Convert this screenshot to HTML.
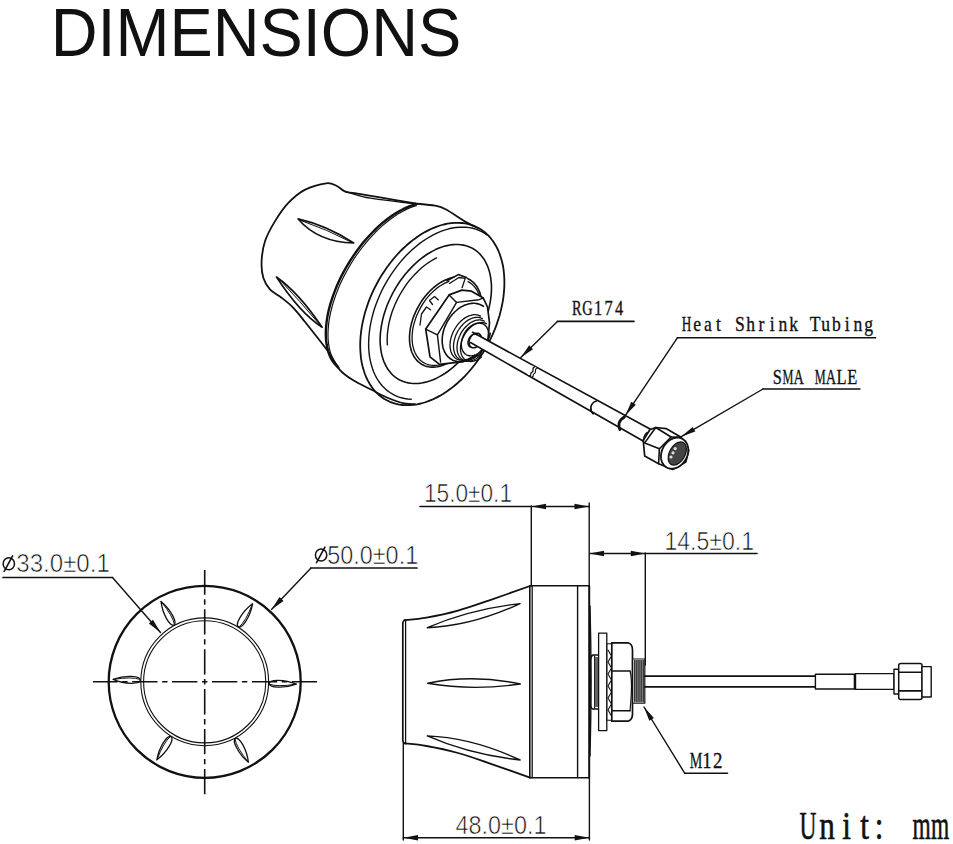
<!DOCTYPE html>
<html><head><meta charset="utf-8"><style>html,body{margin:0;padding:0;background:#fff;width:953px;height:844px;overflow:hidden}svg{display:block}</style></head>
<body><svg width="953" height="844" viewBox="0 0 953 844"><rect width="953" height="844" fill="#fff"/><g stroke="#111" stroke-linecap="round" stroke-linejoin="round" fill="none">
<text x="50.8" y="55.5" font-family="'Liberation Sans', sans-serif" font-size="68" textLength="410.5" lengthAdjust="spacingAndGlyphs" fill="#111" stroke="none">DIMENSIONS</text>
<circle cx="204.7" cy="681.8" r="96" stroke-width="2.3" fill="none"/>
<circle cx="204.7" cy="681.8" r="63.9" stroke-width="1.1" fill="none"/>
<circle cx="204.7" cy="681.8" r="61.1" stroke-width="1.1" fill="none"/>
<line x1="204.7" y1="570" x2="204.7" y2="796" stroke-width="1.6" stroke-dasharray="25.3,4.6,5.4,4.6" stroke-dashoffset="0.6" stroke-linecap="butt"/>
<line x1="93" y1="681.8" x2="318" y2="681.8" stroke-width="1.6" stroke-dasharray="25.3,4.6,5.4,4.6" stroke-dashoffset="0.7" stroke-linecap="butt"/>
<path d="M296.2,684.2 C283.9,688.8 269.1,687.8 269.2,683.5 C269.3,679.2 284.2,679 296.2,684.2 Z" stroke-width="1.3" fill="none"/>
<path d="M296.2,684.2 Q277.2,687.2 269.7,684.3" stroke-width="1" fill="none"/>
<path d="M248.4,762.2 C238.3,753.9 231.7,740.5 235.5,738.5 C239.2,736.4 246.8,749.2 248.4,762.2 Z" stroke-width="1.3" fill="none"/>
<path d="M248.4,762.2 Q236.3,747.3 235,739.3" stroke-width="1" fill="none"/>
<path d="M156.9,759.8 C159.1,746.9 167.3,734.6 171,736.8 C174.7,739 167.4,752 156.9,759.8 Z" stroke-width="1.3" fill="none"/>
<path d="M156.9,759.8 Q163.8,741.9 170.1,736.8" stroke-width="1" fill="none"/>
<path d="M113.2,679.4 C125.5,674.8 140.3,675.8 140.2,680.1 C140.1,684.4 125.2,684.6 113.2,679.4 Z" stroke-width="1.3" fill="none"/>
<path d="M113.2,679.4 Q132.2,676.4 139.7,679.3" stroke-width="1" fill="none"/>
<path d="M161,601.4 C171.1,609.7 177.7,623.1 173.9,625.1 C170.2,627.2 162.6,614.4 161,601.4 Z" stroke-width="1.3" fill="none"/>
<path d="M161,601.4 Q173.1,616.3 174.4,624.3" stroke-width="1" fill="none"/>
<path d="M252.5,603.8 C250.3,616.7 242.1,629 238.4,626.8 C234.7,624.6 242,611.6 252.5,603.8 Z" stroke-width="1.3" fill="none"/>
<path d="M252.5,603.8 Q245.6,621.7 239.3,626.8" stroke-width="1" fill="none"/>
<ellipse cx="8.8" cy="563.7" rx="5.7" ry="6.0" stroke-width="1.5" fill="none"/>
<line x1="4.2" y1="571.4" x2="12.6" y2="555.9" stroke-width="1.6"/>
<text x="16.3" y="572.2" font-family="'Liberation Sans', sans-serif" font-size="25" textLength="93.5" lengthAdjust="spacingAndGlyphs" fill="#111" stroke="#fff" stroke-width="0.6">33.0±0.1</text>
<line x1="3" y1="577.5" x2="112.5" y2="577.5" stroke-width="1.7"/>
<line x1="112.5" y1="577.5" x2="160.5" y2="632.5" stroke-width="1.4"/>
<path d="M160.5,632.5 L153,619.8 L148.9,623.4 Z" fill="#111" stroke="none"/>
<ellipse cx="321.1" cy="554.9" rx="5.7" ry="6.0" stroke-width="1.5" fill="none"/>
<line x1="316.5" y1="562.6" x2="324.9" y2="547.1" stroke-width="1.6"/>
<text x="327.2" y="563.5" font-family="'Liberation Sans', sans-serif" font-size="25" textLength="91" lengthAdjust="spacingAndGlyphs" fill="#111" stroke="#fff" stroke-width="0.6">50.0±0.1</text>
<line x1="311" y1="568" x2="417" y2="568" stroke-width="1.7"/>
<line x1="311" y1="568" x2="271.5" y2="609.5" stroke-width="1.4"/>
<path d="M271.5,609.5 L283.5,600.9 L279.5,597.1 Z" fill="#111" stroke="none"/>
<text x="424" y="501.6" font-family="'Liberation Sans', sans-serif" font-size="25" textLength="88" lengthAdjust="spacingAndGlyphs" fill="#111" stroke="#fff" stroke-width="0.6">15.0±0.1</text>
<line x1="420" y1="506.5" x2="589" y2="506.5" stroke-width="1.6"/>
<path d="M531.5,506.5 L546,509.2 L546,503.8 Z" fill="#111" stroke="none"/>
<path d="M589,506.5 L574.5,503.8 L574.5,509.2 Z" fill="#111" stroke="none"/>
<line x1="531.3" y1="506" x2="531.3" y2="586" stroke-width="1.4"/>
<line x1="589.2" y1="503" x2="589.2" y2="586" stroke-width="1.4"/>
<text x="664.5" y="550" font-family="'Liberation Sans', sans-serif" font-size="25" textLength="89.5" lengthAdjust="spacingAndGlyphs" fill="#111" stroke="#fff" stroke-width="0.6">14.5±0.1</text>
<line x1="590" y1="553.5" x2="757" y2="553.5" stroke-width="1.6"/>
<path d="M589.5,553.5 L604,556.2 L604,550.8 Z" fill="#111" stroke="none"/>
<path d="M645.3,553.5 L630.8,550.8 L630.8,556.2 Z" fill="#111" stroke="none"/>
<line x1="645.3" y1="553" x2="645.3" y2="665" stroke-width="1.4"/>
<text x="455.5" y="833.5" font-family="'Liberation Sans', sans-serif" font-size="25" textLength="91" lengthAdjust="spacingAndGlyphs" fill="#111" stroke="#fff" stroke-width="0.6">48.0±0.1</text>
<line x1="403.3" y1="837.7" x2="589.4" y2="837.7" stroke-width="1.6"/>
<path d="M403.5,837.7 L418,840.4 L418,835 Z" fill="#111" stroke="none"/>
<path d="M589.2,837.7 L574.7,835 L574.7,840.4 Z" fill="#111" stroke="none"/>
<line x1="403.3" y1="743" x2="403.3" y2="840" stroke-width="1.4"/>
<line x1="589.4" y1="778" x2="589.4" y2="840" stroke-width="1.4"/>
<text transform="translate(808,838.6) scale(0.6,1)" text-anchor="middle" font-family="'Liberation Serif', serif" font-size="39" fill="#111" stroke="#111" stroke-width="0.6">U</text>
<text transform="translate(827,838.6) scale(0.8,1)" text-anchor="middle" font-family="'Liberation Serif', serif" font-size="39" fill="#111" stroke="#111" stroke-width="0.6">n</text>
<text transform="translate(846.5,838.6) scale(0.8,1)" text-anchor="middle" font-family="'Liberation Serif', serif" font-size="39" fill="#111" stroke="#111" stroke-width="0.6">i</text>
<text transform="translate(864.5,838.6) scale(0.8,1)" text-anchor="middle" font-family="'Liberation Serif', serif" font-size="39" fill="#111" stroke="#111" stroke-width="0.6">t</text>
<text transform="translate(879,838.6) scale(0.8,1)" text-anchor="middle" font-family="'Liberation Serif', serif" font-size="39" fill="#111" stroke="#111" stroke-width="0.6">:</text>
<text transform="translate(921.5,838.6) scale(0.6,1)" text-anchor="middle" font-family="'Liberation Serif', serif" font-size="39" fill="#111" stroke="#111" stroke-width="0.6">m</text>
<text transform="translate(940,838.6) scale(0.6,1)" text-anchor="middle" font-family="'Liberation Serif', serif" font-size="39" fill="#111" stroke="#111" stroke-width="0.6">m</text>
<path d="M404.4,620.2 C408.1,619.8 417.6,619.2 426.5,617.6 C435.4,616 447.5,613.5 458,610.6 C468.5,607.7 477.4,604.4 489.4,600.3 C501.4,596.2 523.2,588.4 530,586" stroke-width="1.8" fill="none"/>
<path d="M404.4,743.4 C408.1,743.8 417.6,744.4 426.5,746 C435.4,747.6 447.5,750.1 458,753 C468.5,755.9 477.4,759.2 489.4,763.3 C501.4,767.4 523.2,775.2 530,777.6" stroke-width="1.8" fill="none"/>
<path d="M402.8,623 L402.8,740.6" stroke-width="1.7" fill="none"/>
<path d="M405.6,620 L405.6,743.6" stroke-width="1.3" fill="none"/>
<path d="M402.8,623 Q403,620.3 405.6,620.1" stroke-width="1.4" fill="none"/>
<path d="M402.8,740.6 Q403,743.3 405.6,743.5" stroke-width="1.4" fill="none"/>
<line x1="529.8" y1="586" x2="529.8" y2="777.6" stroke-width="1.6"/>
<line x1="532.2" y1="586" x2="532.2" y2="777.6" stroke-width="1.3"/>
<line x1="530" y1="585.8" x2="589.2" y2="585.8" stroke-width="1.6"/>
<line x1="530" y1="777.8" x2="589.2" y2="777.8" stroke-width="1.6"/>
<line x1="577.6" y1="586" x2="577.6" y2="777.6" stroke-width="1.4"/>
<line x1="589.2" y1="586" x2="589.2" y2="777.8" stroke-width="2"/>
<path d="M590,606 Q592,681 590,756" stroke-width="1.4" fill="none"/>
<path d="M427.3,627.7 Q470,609 520.1,603.6 Q472,626 427.3,627.7 Z" stroke-width="1.4" fill="none"/>
<path d="M427.3,735.9 Q470,754.6 520.1,760 Q472,737.6 427.3,735.9 Z" stroke-width="1.4" fill="none"/>
<path d="M427.7,683.3 Q472,674 520.3,684 Q472,691 427.7,683.3 Z" stroke-width="1.4" fill="none"/>
<path d="M600.3,655 L593,655 Q590.5,656 590.5,660 L590.5,704 Q590.5,708.5 593,709 L600.3,709" stroke-width="1.6" fill="none"/>
<line x1="594.6" y1="656" x2="594.6" y2="708" stroke-width="1.2"/>
<rect x="594.8" y="657" width="3.8" height="50" fill="#666" stroke="none"/>
<rect x="598.6" y="633.2" width="8.2" height="97.4" stroke-width="1.3" fill="#fff"/>
<rect x="607" y="643.8" width="5.4" height="76.4" stroke-width="1.1" fill="#fff"/>
<path d="M608,650 L611.5,656 L608,662 L611.5,668 L608,674 L611.5,680 L608,686 L611.5,692 L608,698 L611.5,704 L608,710 L611.5,716" stroke-width="1.1" fill="none"/>
<path d="M611.8,642.8 L628,642.8 Q632.5,644 632.5,650 L632.5,714 Q632.5,720 628,721.2 L611.8,721.2 Z" stroke-width="1.7" fill="#fff"/>
<line x1="611.8" y1="671" x2="630" y2="671" stroke-width="1.4"/>
<line x1="611.8" y1="710.8" x2="630" y2="710.8" stroke-width="1.4"/>
<path d="M630,671 Q633,681 630,710.8" stroke-width="1.2" fill="none"/>
<rect x="632.5" y="659" width="12.3" height="44.2" stroke-width="1.2" fill="#fff"/>
<rect x="633.5" y="660" width="10.3" height="42.2" fill="#888" stroke="none"/>
<line x1="634.5" y1="660.5" x2="634.5" y2="701.5" stroke-width="0.7"/>
<line x1="636.3" y1="660.5" x2="636.3" y2="701.5" stroke-width="0.7"/>
<line x1="638.1" y1="660.5" x2="638.1" y2="701.5" stroke-width="0.7"/>
<line x1="639.9" y1="660.5" x2="639.9" y2="701.5" stroke-width="0.7"/>
<line x1="641.7" y1="660.5" x2="641.7" y2="701.5" stroke-width="0.7"/>
<line x1="643.5" y1="660.5" x2="643.5" y2="701.5" stroke-width="0.7"/>
<line x1="644.8" y1="676.2" x2="815.4" y2="676.2" stroke-width="1.7"/>
<line x1="644.8" y1="686.9" x2="815.4" y2="686.9" stroke-width="1.7"/>
<rect x="815.4" y="674.3" width="39" height="14.7" stroke-width="1.4" fill="#fff"/>
<rect x="854.4" y="673.6" width="1.6" height="15.8" fill="#111" stroke="none"/>
<rect x="855.5" y="673.6" width="38.5" height="15.8" stroke-width="1.4" fill="#fff"/>
<rect x="894" y="669.2" width="4.8" height="24.8" stroke-width="1.4" fill="#fff"/>
<rect x="898.7" y="663.6" width="23.3" height="36" rx="2" stroke-width="1.5" fill="#fff"/>
<line x1="898.7" y1="672.3" x2="922" y2="672.3" stroke-width="1.6"/>
<line x1="898.7" y1="690.9" x2="922" y2="690.9" stroke-width="1.6"/>
<rect x="922" y="666.6" width="9.2" height="30.4" stroke-width="1.4" fill="#fff"/>
<line x1="644" y1="707" x2="684.8" y2="773.3" stroke-width="1.4"/>
<path d="M644,707 L649.3,720.8 L653.9,717.9 Z" fill="#111" stroke="none"/>
<line x1="684.8" y1="773.3" x2="727.5" y2="773.3" stroke-width="1.6"/>
<text transform="translate(696,768.3) scale(0.6,1)" text-anchor="middle" font-family="'Liberation Serif', serif" font-size="23.5" fill="#111" stroke="#111" stroke-width="0.35">M</text>
<text transform="translate(706.9,768.3) scale(0.8,1)" text-anchor="middle" font-family="'Liberation Serif', serif" font-size="23.5" fill="#111" stroke="#111" stroke-width="0.35">1</text>
<text transform="translate(717.8,768.3) scale(0.8,1)" text-anchor="middle" font-family="'Liberation Serif', serif" font-size="23.5" fill="#111" stroke="#111" stroke-width="0.35">2</text>
<path d="M415.2,203.5 C409.6,202.5 391.5,199.3 381.4,197.6 C371.3,195.9 360.7,194.2 354.6,193.2 C348.5,192.2 347.8,192.6 344.8,191.4 C341.8,190.2 339.9,187.3 336.8,186 C333.7,184.7 331.7,182.7 326.3,183.3 C320.9,184 311.1,186.6 304.7,189.9 C298.3,193.2 293.1,197.9 288.1,203.2 C283.1,208.4 278.8,215.1 274.9,221.4 C271,227.8 267.2,234.7 265,241.3 C262.8,247.9 261.9,255.1 261.6,261.2 C261.3,267.3 261.9,273.1 263.3,277.8 C264.7,282.5 266.9,286.1 269.9,289.4 C272.9,292.7 277.6,294.7 281.5,297.7 C285.4,300.7 289.2,303.6 293.1,307.6 C297,311.6 298.9,314.2 304.7,321.5 C310.5,328.8 322.2,343.3 328,351.3 C333.8,359.3 335.5,364.8 339.6,369.6 C343.7,374.4 347.6,376.7 352.8,380 C358,383.3 365.1,386.5 371,389.5 C376.9,392.5 382.5,395.7 388,398 C393.5,400.3 399.5,402.4 404,403.4 C408.5,404.4 413.2,404.1 415,404.2" stroke-width="1.8" fill="none"/>
<path d="M415.2,203.5 C418.5,203.9 429.8,204.8 434.9,205.7 C440,206.6 440.2,206.4 445.6,209.2 C451,212 461.4,219.4 467,222.6 C472.6,225.8 477,227.5 479,228.5" stroke-width="1.8" fill="none"/>
<path d="M344.8,191.4 C347.9,192.3 356.8,195.3 363.5,196.8 C370.2,198.3 376.4,199 385,200.2 C393.6,201.4 410.2,203.3 415.2,203.9" stroke-width="1.3" fill="none"/>
<path d="M338.3,367.6 L336.4,365.8 L334.6,363.8 L332.9,361.6 L331.4,359.2 L330.1,356.6 L329,353.8 L328,350.8 L327.2,347.6 L326.6,344.3 L326.1,340.8 L325.9,337.2 L325.8,333.4 L325.9,329.6 L326.2,325.6 L326.7,321.4 L327.3,317.3 L328.1,313 L329.1,308.6 L330.3,304.2 L331.7,299.8 L333.2,295.3 L334.9,290.8 L336.7,286.3 L338.7,281.8 L340.8,277.3 L343.1,272.9 L345.5,268.5 L348.1,264.1 L350.7,259.8 L353.5,255.6 L356.4,251.5 L359.4,247.5 L362.4,243.6 L365.6,239.8 L368.8,236.2 L372.1,232.7 L375.4,229.3 L378.8,226.2 L382.2,223.2 L385.7,220.3 L389.1,217.7 L392.6,215.3 L396.1,213 L399.5,211 L403,209.2 L406.4,207.6 L409.7,206.2 L413,205.1 L416.3,204.2" stroke-width="2.4" fill="none"/>
<path d="M338,366 L336.2,363.9 L334.6,361.6 L333.2,359.2 L331.9,356.5 L330.8,353.6 L329.9,350.6 L329.2,347.4 L328.6,344 L328.2,340.5 L328,336.8 L328,333 L328.2,329.1 L328.5,325 L329,320.9 L329.8,316.7 L330.6,312.4 L331.7,308 L332.9,303.6 L334.4,299.1 L335.9,294.6 L337.7,290.1 L339.5,285.6 L341.6,281.1 L343.8,276.6 L346.1,272.2 L348.6,267.8 L351.1,263.5 L353.8,259.2 L356.6,255 L359.6,251 L362.6,247 L365.7,243.1 L368.8,239.4 L372.1,235.8 L375.4,232.3 L378.7,229.1 L382.1,225.9 L385.6,223 L389,220.2 L392.5,217.7 L396,215.3 L399.4,213.1 L402.9,211.2 L406.3,209.4 L409.7,207.9 L413,206.6 L416.3,205.6" stroke-width="1.2" fill="none"/>
<path d="M376.4,284.5 L378.8,280 L381.4,275.6 L384.2,271.4 L387,267.2 L390,263.2 L393.2,259.3 L396.4,255.5 L399.7,251.9 L403.1,248.5 L406.6,245.3 L410.2,242.2 L413.8,239.4 L417.5,236.7 L421.2,234.3 L424.9,232.1 L428.7,230.1 L432.5,228.3 L436.2,226.8 L440,225.5 L443.7,224.5 L447.5,223.7 L451.1,223.1 L454.7,222.8 L458.3,222.8 L461.8,223 L465.2,223.4 L468.5,224.1 L471.7,225.1 L474.8,226.2 L477.8,227.7 L480.7,229.3 L483.4,231.2 L486,233.3 L488.5,235.7 L490.7,238.2 L492.9,241 L494.8,244 L496.6,247.1 L498.3,250.5 L499.7,254 L500.9,257.7 L502,261.5 L502.9,265.5 L503.6,269.6 L504,273.8 L504.3,278.2 L504.4,282.6 L504.3,287.1 L504,291.7 L503.5,296.4 L502.8,301.1 L501.9,305.8 L500.8,310.6 L499.6,315.4 L498.1,320.1 L496.5,324.9 L494.7,329.6 L492.7,334.3 L490.6,338.9 L488.2,343.5 L485.8,348 L483.2,352.4 L480.4,356.6 L477.6,360.8 L474.6,364.8 L471.4,368.7 L468.2,372.5 L464.9,376.1 L461.5,379.5 L458,382.7 L454.4,385.8 L450.8,388.6 L447.1,391.3 L443.4,393.7 L439.7,395.9 L435.9,397.9 L432.1,399.7 L428.4,401.2 L424.6,402.5 L420.9,403.5 L417.1,404.3 L413.5,404.9 L409.9,405.2 L406.3,405.2 L402.8,405 L399.4,404.6 L396.1,403.9 L392.9,402.9 L389.8,401.8 L386.8,400.3 L383.9,398.7 L381.2,396.8 L378.6,394.7 L376.1,392.3 L373.9,389.8 L371.7,387 L369.8,384 L368,380.9 L366.3,377.5 L364.9,374 L363.7,370.3 L362.6,366.5 L361.7,362.5 L361,358.4 L360.6,354.2 L360.3,349.8 L360.2,345.4 L360.3,340.9 L360.6,336.3 L361.1,331.6 L361.8,326.9 L362.7,322.2 L363.8,317.4 L365,312.6 L366.5,307.9 L368.1,303.1 L369.9,298.4 L371.9,293.7 L374,289.1 L376.4,284.5Z" stroke-width="1.8" fill="none"/>
<path d="M411.2,399.3 L407.8,399 L404.6,398.5 L401.4,397.8 L398.4,396.8 L395.4,395.6 L392.6,394.2 L389.9,392.5 L387.3,390.6 L384.9,388.5 L382.6,386.2 L380.5,383.7 L378.5,381 L376.7,378.1 L375.1,375 L373.6,371.7 L372.4,368.3 L371.3,364.8 L370.4,361 L369.6,357.2 L369.1,353.2 L368.8,349.1 L368.6,344.9 L368.7,340.6 L368.9,336.3 L369.4,331.9 L370,327.4 L370.8,322.9 L371.8,318.4 L373,313.8 L374.3,309.3 L375.9,304.7 L377.6,300.2 L379.5,295.7 L381.5,291.3 L383.7,286.9 L386.1,282.6 L388.6,278.4 L391.2,274.3 L394,270.3 L396.9,266.4 L399.9,262.6 L403,259 L406.2,255.6 L409.5,252.2 L412.9,249.1 L416.3,246.2 L419.8,243.4 L423.4,240.8 L427,238.5 L430.6,236.3 L434.2,234.4 L437.9,232.6 L441.5,231.1 L445.2,229.9 L448.8,228.8 L452.4,228 L455.9,227.5 L459.4,227.2 L462.8,227.1 L466.2,227.2 L469.5,227.6 L472.7,228.3 L475.8,229.1 L478.8,230.3 L481.7,231.6 L484.4,233.2 L487,235" stroke-width="1.4" fill="none"/>
<path d="M394.2,290.5 L396.2,287.1 L398.3,283.8 L400.5,280.5 L402.8,277.4 L405.2,274.3 L407.7,271.4 L410.3,268.6 L412.9,265.9 L415.6,263.3 L418.3,260.9 L421.1,258.6 L423.9,256.5 L426.8,254.5 L429.7,252.7 L432.6,251.1 L435.5,249.6 L438.4,248.3 L441.3,247.2 L444.2,246.3 L447.1,245.6 L449.9,245 L452.7,244.6 L455.5,244.5 L458.2,244.5 L460.8,244.7 L463.4,245.1 L465.9,245.7 L468.3,246.4 L470.6,247.4 L472.8,248.5 L475,249.9 L477,251.4 L478.9,253 L480.7,254.9 L482.3,256.9 L483.9,259 L485.3,261.3 L486.5,263.8 L487.7,266.4 L488.6,269.1 L489.5,271.9 L490.2,274.9 L490.7,277.9 L491.1,281.1 L491.4,284.3 L491.5,287.7 L491.4,291.1 L491.2,294.6 L490.8,298.1 L490.3,301.6 L489.6,305.2 L488.8,308.9 L487.9,312.5 L486.8,316.1 L485.5,319.8 L484.2,323.4 L482.6,327 L481,330.5 L479.2,334.1 L477.4,337.5 L475.4,340.9 L473.3,344.2 L471.1,347.5 L468.8,350.6 L466.4,353.7 L463.9,356.6 L461.3,359.4 L458.7,362.1 L456,364.7 L453.3,367.1 L450.5,369.4 L447.7,371.5 L444.8,373.5 L441.9,375.3 L439,376.9 L436.1,378.4 L433.2,379.7 L430.3,380.8 L427.4,381.7 L424.5,382.4 L421.7,383 L418.9,383.4 L416.1,383.5 L413.4,383.5 L410.8,383.3 L408.2,382.9 L405.7,382.3 L403.3,381.6 L401,380.6 L398.8,379.5 L396.6,378.1 L394.6,376.6 L392.7,375 L390.9,373.1 L389.3,371.1 L387.7,369 L386.3,366.7 L385.1,364.2 L383.9,361.6 L383,358.9 L382.1,356.1 L381.4,353.1 L380.9,350.1 L380.5,346.9 L380.2,343.7 L380.1,340.3 L380.2,336.9 L380.4,333.4 L380.8,329.9 L381.3,326.4 L382,322.8 L382.8,319.1 L383.7,315.5 L384.8,311.9 L386.1,308.2 L387.4,304.6 L389,301 L390.6,297.5 L392.4,293.9 L394.2,290.5Z" stroke-width="1.6" fill="none"/>
<path d="M387.4,344.9 L387.2,341.8 L387.2,338.6 L387.3,335.3 L387.6,331.9 L388.1,328.6 L388.6,325.2 L389.3,321.7 L390.2,318.3 L391.2,314.8 L392.3,311.3 L393.6,307.9 L395,304.5 L396.6,301.1 L398.2,297.8 L400,294.5 L401.9,291.3 L403.9,288.2 L405.9,285.1 L408.1,282.2 L410.4,279.3 L412.8,276.6 L415.2,274 L417.7,271.4 L420.3,269.1 L422.9,266.8 L425.5,264.7 L428.2,262.8 L431,261 L433.7,259.4 L436.5,257.9" stroke-width="1.4" fill="none"/>
<path d="M457.7,356.5 L455.9,357.9 L454.1,359.3 L452.2,360.6 L450.4,361.8 L448.5,362.8 L446.6,363.8 L444.7,364.6 L442.8,365.3 L440.9,366 L439,366.4 L437.2,366.8 L435.4,367 L433.6,367.1 L431.8,367.1 L430.1,367 L428.4,366.7 L426.7,366.4 L425.1,365.9 L423.6,365.2 L422.1,364.5 L420.7,363.7 L419.4,362.7 L418.1,361.6 L416.9,360.4 L415.8,359.1 L414.8,357.7 L413.8,356.2 L413,354.6 L412.2,353 L411.5,351.2 L411,349.3 L410.5,347.4 L410.1,345.4 L409.8,343.4 L409.6,341.3 L409.5,339.1 L409.5,336.9 L409.6,334.7 L409.8,332.4 L410.1,330.1 L410.5,327.7 L411,325.4 L411.6,323 L412.3,320.6 L413,318.3 L413.9,315.9 L414.9,313.6 L415.9,311.3 L417,309 L418.2,306.8 L419.5,304.6 L420.8,302.4 L422.2,300.3 L423.7,298.3 L425.2,296.3 L426.8,294.4 L428.5,292.5 L430.2,290.8 L431.9,289.1 L433.7,287.5 L435.5,286.1 L437.3,284.7 L439.2,283.4 L441,282.2 L442.9,281.2 L444.8,280.2 L446.7,279.4 L448.6,278.7 L450.5,278 L452.4,277.6 L454.2,277.2 L456,277 L457.8,276.9 L459.6,276.9 L461.3,277 L463,277.3 L464.7,277.6 L466.3,278.1 L467.8,278.8 L469.3,279.5 L470.7,280.3 L472,281.3 L473.3,282.4 L474.5,283.6 L475.6,284.9 L476.6,286.3 L477.6,287.8 L478.4,289.4 L479.2,291 L479.9,292.8 L480.4,294.7 L480.9,296.6 L481.3,298.6 L481.6,300.6 L481.8,302.7" stroke-width="1.6" fill="none"/>
<path d="M452.1,359.6 L450.3,360.7 L448.5,361.6 L446.7,362.5 L444.9,363.3 L443.1,363.9 L441.3,364.5 L439.5,364.9 L437.8,365.2 L436,365.4 L434.3,365.4 L432.7,365.4 L431,365.2 L429.4,364.9 L427.9,364.5 L426.4,364 L424.9,363.3 L423.6,362.6 L422.2,361.7 L421,360.8 L419.8,359.7 L418.7,358.5 L417.7,357.2 L416.7,355.9 L415.9,354.4 L415.1,352.8 L414.4,351.2 L413.8,349.5 L413.3,347.7 L412.8,345.8 L412.5,343.9 L412.3,341.9 L412.1,339.9 L412.1,337.8 L412.1,335.7 L412.3,333.5 L412.5,331.3 L412.8,329.1 L413.2,326.9 L413.8,324.6 L414.4,322.4 L415.1,320.1 L415.8,317.9 L416.7,315.6 L417.7,313.4 L418.7,311.2 L419.8,309.1 L421,306.9 L422.2,304.9 L423.5,302.8 L424.9,300.8 L426.3,298.9 L427.8,297.1 L429.4,295.3 L431,293.6 L432.6,292 L434.3,290.4 L436,289 L437.7,287.6 L439.5,286.3 L441.3,285.2 L443.1,284.1 L444.9,283.2 L446.7,282.3 L448.5,281.6 L450.3,280.9 L452.1,280.4 L453.9,280 L455.6,279.8 L457.4,279.6 L459.1,279.6 L460.7,279.7 L462.3,279.9 L463.9,280.2 L465.5,280.6 L466.9,281.2 L468.4,281.8 L469.7,282.6 L471,283.5 L472.3,284.5 L473.4,285.6 L474.5,286.8 L475.5,288.1 L476.5,289.5 L477.3,290.9 L478.1,292.5 L478.8,294.2 L479.3,295.9 L479.8,297.7" stroke-width="1.3" fill="none"/>
<path d="M438.4,299.9 L434.5,296.5 L429.5,300.5 L432.5,304.5" stroke-width="1.3" fill="none"/>
<path d="M430.6,309.8 L426.5,307 L421.5,314 L420,325" stroke-width="1.3" fill="none"/>
<path d="M449,280.5 L458.3,275.2 L466.8,278.2 L468,281 L462,287 L450,283 Z" fill="#fff" stroke="none"/>
<path d="M447,280.8 L458.3,274.6 L466.5,277.6" stroke-width="1.6" fill="none"/>
<path d="M449.5,283.5 L458.9,277.5 L465.2,278.4 L462.1,287.7" stroke-width="1.3" fill="none"/>
<path d="M449.1,294.9 L461.9,290.1 L471.5,291.2 L483.3,298.1 L487.5,307 L489.5,322.7 L488,339.7 L480,354.7 L463,361.6 L439.5,364.3 L430,356.8 L425.7,329.1Z" stroke-width="1.7" fill="#fff"/>
<path d="M449.1,294.9 L456.6,302.4 L479,299.7 L483.3,298.1" stroke-width="1.4" fill="none"/>
<path d="M456.6,302.4 L437.4,334.9 L425.7,329.1" stroke-width="1.4" fill="none"/>
<path d="M437.4,334.9 L440.6,362.1" stroke-width="1.4" fill="none"/>
<path d="M490.3,333.4 L489.9,334.9 L489.4,336.5 L488.8,338 L488.2,339.5 L487.5,340.9 L486.8,342.4 L486,343.8 L485.2,345.2 L484.3,346.6 L483.4,347.9 L482.4,349.2 L481.4,350.4 L480.3,351.6 L479.2,352.7 L478.1,353.8 L476.9,354.8 L475.7,355.8 L474.5,356.7 L473.3,357.5 L472,358.3 L470.7,359 L469.5,359.6 L468.2,360.1 L466.9,360.6 L465.6,360.9 L464.3,361.3 L463,361.5 L461.7,361.6 L460.5,361.7 L459.2,361.7 L458,361.6 L456.8,361.4 L455.6,361.1 L454.5,360.8 L453.4,360.4 L452.3,359.9 L451.3,359.3 L450.3,358.7 L449.4,358 L448.5,357.2 L447.7,356.4 L446.9,355.4 L446.1,354.5 L445.5,353.4 L444.8,352.3 L444.3,351.2 L443.8,350 L443.4,348.7 L443,347.4 L442.7,346.1 L442.5,344.7 L442.3,343.3 L442.2,341.9 L442.2,340.4 L442.2,338.9 L442.3,337.4 L442.5,335.9 L442.7,334.4 L443,332.8 L443.4,331.3 L443.8,329.8 L444.3,328.2 L444.9,326.7 L445.5,325.2 L446.2,323.8 L446.9,322.3 L447.7,320.9 L448.6,319.5 L449.5,318.1 L450.4,316.8 L451.4,315.6 L452.4,314.3 L453.5,313.2 L454.6,312 L455.8,311 L456.9,310 L458.1,309 L459.3,308.1 L460.6,307.3 L461.8,306.6 L463.1,305.9 L464.4,305.3 L465.7,304.8 L467,304.4 L468.3,304 L469.6,303.7 L470.9,303.5 L472.1,303.4 L473.4,303.3 L474.6,303.3 L475.8,303.5 L477,303.6 L478.2,303.9 L479.3,304.3 L480.4,304.7 L481.5,305.2 L482.5,305.8 L483.5,306.4" stroke-width="1.6" fill="none"/>
<path d="M474.8,355 L473.9,355.7 L473,356.4 L472,357.1 L471.1,357.7 L470.1,358.2 L469.1,358.7 L468.2,359.1 L467.2,359.4 L466.2,359.7 L465.3,360 L464.3,360.2 L463.4,360.3 L462.5,360.3 L461.6,360.3 L460.7,360.2 L459.8,360.1 L459,359.9 L458.2,359.6 L457.4,359.3 L456.6,358.9 L455.9,358.5 L455.2,358 L454.6,357.4 L453.9,356.8 L453.4,356.2 L452.8,355.5 L452.3,354.7 L451.9,353.9 L451.5,353 L451.1,352.1 L450.8,351.2 L450.6,350.2 L450.4,349.2 L450.2,348.2 L450.1,347.1 L450,346 L450,344.9 L450.1,343.8 L450.2,342.6 L450.3,341.4 L450.5,340.2 L450.7,339.1 L451,337.9 L451.4,336.7 L451.8,335.5 L452.2,334.3 L452.7,333.1 L453.2,331.9 L453.8,330.8 L454.4,329.7 L455,328.5 L455.7,327.5 L456.4,326.4 L457.1,325.4 L457.9,324.4 L458.7,323.4 L459.6,322.5 L460.4,321.6 L461.3,320.8 L462.2,320 L463.1,319.3 L464,318.6 L465,317.9 L465.9,317.3 L466.9,316.8 L467.9,316.3 L468.8,315.9 L469.8,315.6 L470.8,315.3 L471.7,315 L472.7,314.8 L473.6,314.7 L474.5,314.7 L475.4,314.7 L476.3,314.8 L477.2,314.9 L478,315.1 L478.8,315.4 L479.6,315.7 L480.4,316.1" stroke-width="1.3" fill="none"/>
<path d="M477.1,355.6 L476.2,356.4 L475.3,357 L474.4,357.6 L473.5,358.2 L472.6,358.7 L471.7,359.1 L470.8,359.5 L469.8,359.9 L468.9,360.2 L468,360.4 L467.1,360.5 L466.2,360.6 L465.4,360.7 L464.5,360.7 L463.6,360.6 L462.8,360.5 L462,360.3 L461.3,360 L460.5,359.7 L459.8,359.4 L459.1,359 L458.4,358.5 L457.8,358 L457.2,357.4 L456.7,356.8 L456.2,356.1 L455.7,355.4 L455.3,354.6 L454.9,353.8 L454.6,352.9 L454.3,352 L454,351.1 L453.8,350.1 L453.7,349.2 L453.6,348.1 L453.5,347.1 L453.5,346 L453.6,344.9 L453.6,343.8 L453.8,342.7 L454,341.6 L454.2,340.5 L454.5,339.3 L454.8,338.2 L455.2,337.1 L455.6,335.9 L456,334.8 L456.5,333.7 L457.1,332.6 L457.6,331.5 L458.2,330.5 L458.9,329.5 L459.6,328.4 L460.3,327.5 L461,326.5 L461.8,325.6 L462.6,324.7 L463.4,323.9 L464.2,323.1 L465.1,322.4 L466,321.6 L466.8,321 L467.7,320.4 L468.6,319.8 L469.6,319.3 L470.5,318.9 L471.4,318.5 L472.3,318.1 L473.2,317.8 L474.1,317.6 L475,317.5 L475.9,317.4 L476.8,317.3 L477.7,317.3 L478.5,317.4 L479.3,317.5 L480.1,317.7 L480.9,318 L481.7,318.3 L482.4,318.6" stroke-width="1.3" fill="none"/>
<path d="M479.4,356.3 L478.5,357 L477.7,357.6 L476.8,358.2 L476,358.7 L475.1,359.2 L474.2,359.6 L473.4,360 L472.5,360.3 L471.6,360.6 L470.8,360.8 L469.9,360.9 L469.1,361 L468.2,361.1 L467.4,361.1 L466.6,361 L465.8,360.9 L465.1,360.7 L464.3,360.5 L463.6,360.2 L462.9,359.8 L462.3,359.4 L461.7,359 L461.1,358.5 L460.5,357.9 L460,357.3 L459.5,356.7 L459.1,356 L458.7,355.3 L458.3,354.5 L458,353.7 L457.7,352.9 L457.5,352 L457.3,351.1 L457.2,350.1 L457.1,349.2 L457,348.2 L457,347.2 L457,346.1 L457.1,345.1 L457.3,344 L457.4,343 L457.6,341.9 L457.9,340.8 L458.2,339.7 L458.6,338.7 L459,337.6 L459.4,336.5 L459.9,335.5 L460.4,334.4 L460.9,333.4 L461.5,332.4 L462.1,331.4 L462.7,330.5 L463.4,329.6 L464.1,328.7 L464.8,327.8 L465.6,327 L466.4,326.2 L467.2,325.4 L468,324.7 L468.8,324 L469.6,323.4 L470.5,322.8 L471.3,322.3 L472.2,321.8 L473.1,321.4 L474,321 L474.8,320.7 L475.7,320.4 L476.6,320.2 L477.4,320.1 L478.3,320 L479.1,319.9 L479.9,319.9 L480.7,320 L481.5,320.1 L482.2,320.3 L483,320.5 L483.7,320.8 L484.4,321.2" stroke-width="1.3" fill="none"/>
<path d="M481.6,356.9 L480.8,357.6 L480,358.2 L479.2,358.7 L478.4,359.2 L477.6,359.7 L476.8,360.1 L476,360.4 L475.1,360.7 L474.3,361 L473.5,361.2 L472.7,361.3 L471.9,361.4 L471.1,361.5 L470.3,361.5 L469.6,361.4 L468.8,361.3 L468.1,361.1 L467.4,360.9 L466.8,360.6 L466.1,360.3 L465.5,359.9 L464.9,359.5 L464.3,359 L463.8,358.5 L463.3,357.9 L462.9,357.3 L462.5,356.7 L462.1,356 L461.7,355.3 L461.4,354.5 L461.2,353.7 L461,352.9 L460.8,352 L460.6,351.1 L460.5,350.2 L460.5,349.3 L460.5,348.3 L460.5,347.3 L460.6,346.3 L460.7,345.3 L460.9,344.3 L461.1,343.3 L461.3,342.3 L461.6,341.3 L462,340.3 L462.3,339.3 L462.7,338.3 L463.2,337.3 L463.7,336.3 L464.2,335.3 L464.7,334.4 L465.3,333.4 L465.9,332.5 L466.5,331.7 L467.2,330.8 L467.9,330 L468.6,329.2 L469.3,328.5 L470.1,327.7 L470.9,327.1 L471.6,326.4 L472.4,325.8 L473.2,325.3 L474.1,324.8 L474.9,324.3 L475.7,323.9 L476.5,323.6 L477.3,323.3 L478.2,323 L479,322.8 L479.8,322.7 L480.6,322.6 L481.4,322.5 L482.1,322.5 L482.9,322.6 L483.6,322.7 L484.4,322.9 L485.1,323.1 L485.7,323.4 L486.4,323.7" stroke-width="1.3" fill="none"/>
<path d="M464.3,333.6 L464.7,332.8 L465.2,332 L465.7,331.2 L466.3,330.5 L466.8,329.8 L467.4,329.1 L468,328.5 L468.7,327.8 L469.3,327.3 L470,326.7 L470.6,326.2 L471.3,325.7 L472,325.3 L472.7,324.8 L473.4,324.5 L474.1,324.2 L474.9,323.9 L475.6,323.6 L476.3,323.4 L477,323.3 L477.7,323.2 L478.4,323.1 L479.1,323.1 L479.8,323.1 L480.4,323.2 L481.1,323.3 L481.7,323.5 L482.3,323.7 L482.9,323.9 L483.5,324.2 L484,324.5 L484.6,324.9 L485.1,325.3 L485.5,325.8 L486,326.3 L486.4,326.8 L486.8,327.3 L487.1,327.9 L487.4,328.6 L487.7,329.2 L488,329.9 L488.2,330.6 L488.3,331.3 L488.5,332.1 L488.6,332.9 L488.6,333.7 L488.7,334.5 L488.7,335.3 L488.6,336.1 L488.5,337 L488.4,337.8 L488.2,338.7 L488,339.6 L487.8,340.4 L487.5,341.3 L487.2,342.1 L486.9,343 L486.5,343.8 L486.1,344.6 L485.7,345.4 L485.3,346.2 L484.8,347 L484.3,347.8 L483.7,348.5 L483.2,349.2 L482.6,349.9 L482,350.5 L481.3,351.2 L480.7,351.7 L480,352.3 L479.4,352.8 L478.7,353.3 L478,353.7 L477.3,354.2 L476.6,354.5 L475.9,354.8 L475.1,355.1 L474.4,355.4 L473.7,355.6 L473,355.7 L472.3,355.8 L471.6,355.9 L470.9,355.9 L470.2,355.9 L469.6,355.8 L468.9,355.7 L468.3,355.5 L467.7,355.3 L467.1,355.1 L466.5,354.8 L466,354.5 L465.4,354.1 L464.9,353.7 L464.5,353.2 L464,352.7 L463.6,352.2 L463.2,351.7 L462.9,351.1 L462.6,350.4 L462.3,349.8 L462,349.1 L461.8,348.4 L461.7,347.7 L461.5,346.9 L461.4,346.1 L461.4,345.3 L461.3,344.5 L461.3,343.7 L461.4,342.9 L461.5,342 L461.6,341.2 L461.8,340.3 L462,339.4 L462.2,338.6 L462.5,337.7 L462.8,336.9 L463.1,336 L463.5,335.2 L463.9,334.4 L464.3,333.6Z" stroke-width="1.4" fill="none"/>
<path d="M470.3,337.8 L470.5,337.4 L470.7,337.1 L470.9,336.7 L471.2,336.4 L471.4,336.1 L471.7,335.8 L472,335.5 L472.3,335.2 L472.5,335 L472.8,334.7 L473.1,334.5 L473.4,334.3 L473.8,334.1 L474.1,333.9 L474.4,333.8 L474.7,333.6 L475,333.5 L475.4,333.4 L475.7,333.3 L476,333.2 L476.3,333.2 L476.7,333.2 L477,333.2 L477.3,333.2 L477.6,333.2 L477.9,333.3 L478.2,333.3 L478.4,333.4 L478.7,333.5 L479,333.7 L479.2,333.8 L479.5,334 L479.7,334.2 L479.9,334.4 L480.1,334.6 L480.3,334.9 L480.5,335.1 L480.7,335.4 L480.8,335.7 L480.9,336 L481,336.3 L481.1,336.6 L481.2,336.9 L481.3,337.3 L481.3,337.6 L481.4,338 L481.4,338.3 L481.4,338.7 L481.4,339.1 L481.3,339.4 L481.3,339.8 L481.2,340.2 L481.1,340.6 L481,341 L480.9,341.4 L480.8,341.7 L480.6,342.1 L480.5,342.5 L480.3,342.9 L480.1,343.2 L479.9,343.6 L479.7,343.9 L479.5,344.3 L479.2,344.6 L479,344.9 L478.7,345.2 L478.4,345.5 L478.1,345.8 L477.9,346 L477.6,346.3 L477.3,346.5 L477,346.7 L476.6,346.9 L476.3,347.1 L476,347.2 L475.7,347.4 L475.4,347.5 L475,347.6 L474.7,347.7 L474.4,347.8 L474.1,347.8 L473.7,347.8 L473.4,347.8 L473.1,347.8 L472.8,347.8 L472.5,347.7 L472.2,347.7 L472,347.6 L471.7,347.5 L471.4,347.3 L471.2,347.2 L470.9,347 L470.7,346.8 L470.5,346.6 L470.3,346.4 L470.1,346.1 L469.9,345.9 L469.7,345.6 L469.6,345.3 L469.5,345 L469.4,344.7 L469.3,344.4 L469.2,344.1 L469.1,343.7 L469.1,343.4 L469,343 L469,342.7 L469,342.3 L469,341.9 L469.1,341.6 L469.1,341.2 L469.2,340.8 L469.3,340.4 L469.4,340 L469.5,339.6 L469.6,339.3 L469.8,338.9 L469.9,338.5 L470.1,338.1 L470.3,337.8Z" stroke-width="1.6" fill="none"/>
<path d="M473.5,332.8 L650,429.1 L644,441.5 L471,342.9 Z" fill="#fff" stroke="none"/>
<path d="M472.6,332.3 L650,429.1" stroke-width="1.7" fill="none"/>
<path d="M470.5,342.6 L644,441.5" stroke-width="1.7" fill="none"/>
<path d="M470.1,346.9 L469.9,346.8 L469.7,346.6 L469.5,346.5 L469.3,346.3 L469.1,346.1 L468.9,345.9 L468.8,345.6 L468.6,345.4 L468.5,345.1 L468.4,344.9 L468.3,344.6 L468.2,344.3 L468.1,344 L468,343.7 L468,343.4 L468,343.1 L467.9,342.8 L467.9,342.4 L468,342.1 L468,341.7 L468,341.4 L468.1,341.1 L468.2,340.7 L468.3,340.4 L468.4,340 L468.5,339.7 L468.6,339.3 L468.8,339 L468.9,338.7 L469.1,338.4 L469.3,338 L469.5,337.7 L469.7,337.4 L469.9,337.1 L470.1,336.9 L470.4,336.6 L470.6,336.3 L470.9,336.1 L471.1,335.8 L471.4,335.6 L471.7,335.4 L471.9,335.2 L472.2,335 L472.5,334.9 L472.8,334.7 L473.1,334.6 L473.4,334.5 L473.7,334.4 L473.9,334.3 L474.2,334.3 L474.5,334.2 L474.8,334.2 L475.1,334.2 L475.4,334.2 L475.6,334.3 L475.9,334.3 L476.2,334.4 L476.4,334.5 L476.7,334.6 L476.9,334.7" stroke-width="1.4" fill="none"/>
<path d="M298.1,218.9 Q327,225.5 353.7,243 Q318,242 298.1,218.9 Z" stroke-width="1.6" fill="none"/>
<path d="M301,220.5 Q327,229.5 350,241.5" stroke-width="1" fill="none"/>
<path d="M276.5,277 Q299,293 322.1,327.3 Q300,313 276.5,277 Z" stroke-width="1.6" fill="none"/>
<path d="M279.5,279.5 Q300,301 320,325" stroke-width="1" fill="none"/>
<path d="M532.5,365.5 L537,368 L532,376.8 L527.5,374.2 Z" fill="#fff" stroke="none"/>
<path d="M534.6,366.8 C531,368 534.8,371.3 532,372.2 C529.2,373.2 532.5,375 529.5,375.9" stroke-width="1.3" fill="none"/>
<path d="M537,368 C533.5,369.3 537.2,372.5 534.4,373.4 C531.6,374.4 534.9,376.2 532,377.1" stroke-width="1.1" fill="none"/>
<path d="M596.5,401 Q591.5,402.5 590.8,407.5 Q590.6,411.5 593.2,413.8" stroke-width="1.7" fill="none"/>
<path d="M624.4,417 Q620,419.5 619,423.5 Q618.6,426.8 619.9,429.6" stroke-width="2.8" fill="none"/>
<path d="M649.8,429.7 L655.7,427.5 L666,428.6 L680.7,437 L688.8,450.3 L685.8,462 L672.6,469.4 L658.6,463.8 L644.7,456.1 L643.2,440.5Z" stroke-width="1.7" fill="#fff"/>
<path d="M655.7,427.5 L671.1,437 L659.4,448.8 L644.7,442.9 L655.7,427.5" stroke-width="1.6" fill="none"/>
<path d="M671.1,437 L680.7,437" stroke-width="1.4" fill="none"/>
<path d="M659.4,448.8 L658.6,463.8" stroke-width="1.6" fill="none"/>
<path d="M647,432.5 Q643,436 643.5,442" stroke-width="1.4" fill="none"/>
<path d="M663.5,447 L663.9,446.3 L664.4,445.6 L664.9,444.9 L665.4,444.2 L665.9,443.6 L666.5,442.9 L667.1,442.3 L667.7,441.8 L668.3,441.2 L668.9,440.7 L669.6,440.3 L670.2,439.8 L670.9,439.4 L671.6,439.1 L672.3,438.8 L673,438.5 L673.7,438.2 L674.5,438 L675.2,437.9 L675.9,437.8 L676.6,437.7 L677.3,437.7 L678,437.7 L678.7,437.7 L679.4,437.8 L680,438 L680.7,438.2 L681.3,438.4 L681.9,438.6 L682.5,438.9 L683.1,439.3 L683.6,439.7 L684.1,440.1 L684.6,440.5 L685.1,441 L685.6,441.5 L686,442.1 L686.3,442.7 L686.7,443.3 L687,443.9 L687.3,444.6 L687.5,445.3 L687.7,446 L687.9,446.7 L688.1,447.5 L688.2,448.2 L688.2,449 L688.2,449.8 L688.2,450.6 L688.2,451.4 L688.1,452.2 L688,453 L687.8,453.8 L687.6,454.7 L687.4,455.5 L687.1,456.3 L686.8,457.1 L686.5,457.8 L686.1,458.6 L685.7,459.4 L685.3,460.1 L684.8,460.8 L684.3,461.5 L683.8,462.2 L683.3,462.8 L682.7,463.5 L682.1,464.1 L681.5,464.6 L680.9,465.2 L680.3,465.7 L679.6,466.1 L679,466.6 L678.3,467 L677.6,467.3 L676.9,467.6 L676.2,467.9 L675.5,468.2 L674.7,468.4 L674,468.5 L673.3,468.6 L672.6,468.7 L671.9,468.7 L671.2,468.7 L670.5,468.7 L669.8,468.6 L669.2,468.4 L668.5,468.2 L667.9,468 L667.3,467.8 L666.7,467.5 L666.1,467.1 L665.6,466.7 L665.1,466.3 L664.6,465.9 L664.1,465.4 L663.6,464.9 L663.2,464.3 L662.9,463.7 L662.5,463.1 L662.2,462.5 L661.9,461.8 L661.7,461.1 L661.5,460.4 L661.3,459.7 L661.1,458.9 L661,458.2 L661,457.4 L661,456.6 L661,455.8 L661,455 L661.1,454.2 L661.2,453.4 L661.4,452.6 L661.6,451.7 L661.8,450.9 L662.1,450.1 L662.4,449.3 L662.7,448.6 L663.1,447.8 L663.5,447Z" stroke-width="1.8" fill="#fff"/>
<path d="M670.5,449.7 L670.8,449.2 L671.2,448.6 L671.6,448.1 L671.9,447.6 L672.3,447 L672.7,446.5 L673.1,446.1 L673.6,445.6 L674,445.2 L674.5,444.8 L674.9,444.4 L675.4,444 L675.8,443.7 L676.3,443.4 L676.8,443.1 L677.3,442.9 L677.7,442.6 L678.2,442.4 L678.7,442.3 L679.2,442.2 L679.6,442.1 L680.1,442 L680.5,441.9 L681,441.9 L681.4,442 L681.8,442 L682.2,442.1 L682.6,442.2 L683,442.4 L683.4,442.6 L683.7,442.8 L684,443 L684.3,443.3 L684.6,443.6 L684.9,443.9 L685.2,444.3 L685.4,444.6 L685.6,445 L685.8,445.5 L685.9,445.9 L686.1,446.4 L686.2,446.9 L686.3,447.4 L686.3,447.9 L686.4,448.4 L686.4,449 L686.4,449.5 L686.3,450.1 L686.3,450.7 L686.2,451.3 L686.1,451.9 L686,452.5 L685.8,453.1 L685.6,453.7 L685.4,454.3 L685.2,454.9 L684.9,455.5 L684.7,456.1 L684.4,456.7 L684.1,457.3 L683.8,457.8 L683.4,458.4 L683,458.9 L682.7,459.4 L682.3,460 L681.9,460.5 L681.5,460.9 L681,461.4 L680.6,461.8 L680.1,462.2 L679.7,462.6 L679.2,463 L678.8,463.3 L678.3,463.6 L677.8,463.9 L677.3,464.1 L676.9,464.4 L676.4,464.6 L675.9,464.7 L675.4,464.8 L675,464.9 L674.5,465 L674.1,465.1 L673.6,465.1 L673.2,465 L672.8,465 L672.4,464.9 L672,464.8 L671.6,464.6 L671.2,464.4 L670.9,464.2 L670.6,464 L670.3,463.7 L670,463.4 L669.7,463.1 L669.4,462.7 L669.2,462.4 L669,462 L668.8,461.5 L668.7,461.1 L668.5,460.6 L668.4,460.1 L668.3,459.6 L668.3,459.1 L668.2,458.6 L668.2,458 L668.2,457.5 L668.3,456.9 L668.3,456.3 L668.4,455.7 L668.5,455.1 L668.6,454.5 L668.8,453.9 L669,453.3 L669.2,452.7 L669.4,452.1 L669.7,451.5 L669.9,450.9 L670.2,450.3 L670.5,449.7Z" stroke-width="1.2" fill="#444"/>
<circle cx="675.2" cy="448.6" r="1.6" fill="#ddd" stroke="none"/>
<circle cx="673" cy="452.8" r="1.6" fill="#ddd" stroke="none"/>
<circle cx="671" cy="457" r="1.6" fill="#ddd" stroke="none"/>
<text transform="translate(576.8,315.2) scale(0.7,1)" text-anchor="middle" font-family="'Liberation Serif', serif" font-size="20.5" fill="#111" stroke="#111" stroke-width="0.35">R</text>
<text transform="translate(587.4,315.2) scale(0.7,1)" text-anchor="middle" font-family="'Liberation Serif', serif" font-size="20.5" fill="#111" stroke="#111" stroke-width="0.35">G</text>
<text transform="translate(598,315.2) scale(0.8,1)" text-anchor="middle" font-family="'Liberation Serif', serif" font-size="20.5" fill="#111" stroke="#111" stroke-width="0.35">1</text>
<text transform="translate(608.6,315.2) scale(0.8,1)" text-anchor="middle" font-family="'Liberation Serif', serif" font-size="20.5" fill="#111" stroke="#111" stroke-width="0.35">7</text>
<text transform="translate(619.2,315.2) scale(0.8,1)" text-anchor="middle" font-family="'Liberation Serif', serif" font-size="20.5" fill="#111" stroke="#111" stroke-width="0.35">4</text>
<line x1="557.4" y1="321.4" x2="634" y2="321.4" stroke-width="1.6"/>
<line x1="557.4" y1="321.4" x2="520.8" y2="357.4" stroke-width="1.4"/>
<path d="M520.8,357.4 L533,349.2 L529.2,345.3 Z" fill="#111" stroke="none"/>
<text transform="translate(686.4,331.4) scale(0.6,1)" text-anchor="middle" font-family="'Liberation Serif', serif" font-size="22" fill="#111" stroke="#111" stroke-width="0.35">H</text>
<text transform="translate(697.1,331.4) scale(0.8,1)" text-anchor="middle" font-family="'Liberation Serif', serif" font-size="22" fill="#111" stroke="#111" stroke-width="0.35">e</text>
<text transform="translate(707.8,331.4) scale(0.8,1)" text-anchor="middle" font-family="'Liberation Serif', serif" font-size="22" fill="#111" stroke="#111" stroke-width="0.35">a</text>
<text transform="translate(718.5,331.4) scale(0.8,1)" text-anchor="middle" font-family="'Liberation Serif', serif" font-size="22" fill="#111" stroke="#111" stroke-width="0.35">t</text>
<text transform="translate(740,331.4) scale(0.8,1)" text-anchor="middle" font-family="'Liberation Serif', serif" font-size="22" fill="#111" stroke="#111" stroke-width="0.35">S</text>
<text transform="translate(750.7,331.4) scale(0.8,1)" text-anchor="middle" font-family="'Liberation Serif', serif" font-size="22" fill="#111" stroke="#111" stroke-width="0.35">h</text>
<text transform="translate(761.4,331.4) scale(0.8,1)" text-anchor="middle" font-family="'Liberation Serif', serif" font-size="22" fill="#111" stroke="#111" stroke-width="0.35">r</text>
<text transform="translate(772.1,331.4) scale(0.8,1)" text-anchor="middle" font-family="'Liberation Serif', serif" font-size="22" fill="#111" stroke="#111" stroke-width="0.35">i</text>
<text transform="translate(782.8,331.4) scale(0.8,1)" text-anchor="middle" font-family="'Liberation Serif', serif" font-size="22" fill="#111" stroke="#111" stroke-width="0.35">n</text>
<text transform="translate(793.6,331.4) scale(0.8,1)" text-anchor="middle" font-family="'Liberation Serif', serif" font-size="22" fill="#111" stroke="#111" stroke-width="0.35">k</text>
<text transform="translate(815,331.4) scale(0.8,1)" text-anchor="middle" font-family="'Liberation Serif', serif" font-size="22" fill="#111" stroke="#111" stroke-width="0.35">T</text>
<text transform="translate(825.7,331.4) scale(0.8,1)" text-anchor="middle" font-family="'Liberation Serif', serif" font-size="22" fill="#111" stroke="#111" stroke-width="0.35">u</text>
<text transform="translate(836.4,331.4) scale(0.8,1)" text-anchor="middle" font-family="'Liberation Serif', serif" font-size="22" fill="#111" stroke="#111" stroke-width="0.35">b</text>
<text transform="translate(847.2,331.4) scale(0.8,1)" text-anchor="middle" font-family="'Liberation Serif', serif" font-size="22" fill="#111" stroke="#111" stroke-width="0.35">i</text>
<text transform="translate(857.9,331.4) scale(0.8,1)" text-anchor="middle" font-family="'Liberation Serif', serif" font-size="22" fill="#111" stroke="#111" stroke-width="0.35">n</text>
<text transform="translate(868.6,331.4) scale(0.8,1)" text-anchor="middle" font-family="'Liberation Serif', serif" font-size="22" fill="#111" stroke="#111" stroke-width="0.35">g</text>
<line x1="677.5" y1="337.7" x2="875.6" y2="337.7" stroke-width="1.6"/>
<line x1="677.5" y1="337.7" x2="625.5" y2="415.3" stroke-width="1.4"/>
<path d="M625.5,415.3 L635.8,404.8 L631.3,401.8 Z" fill="#111" stroke="none"/>
<text transform="translate(777.4,384) scale(0.8,1)" text-anchor="middle" font-family="'Liberation Serif', serif" font-size="20.5" fill="#111" stroke="#111" stroke-width="0.35">S</text>
<text transform="translate(788,384) scale(0.6,1)" text-anchor="middle" font-family="'Liberation Serif', serif" font-size="20.5" fill="#111" stroke="#111" stroke-width="0.35">M</text>
<text transform="translate(798.8,384) scale(0.7,1)" text-anchor="middle" font-family="'Liberation Serif', serif" font-size="20.5" fill="#111" stroke="#111" stroke-width="0.35">A</text>
<text transform="translate(820.1,384) scale(0.6,1)" text-anchor="middle" font-family="'Liberation Serif', serif" font-size="20.5" fill="#111" stroke="#111" stroke-width="0.35">M</text>
<text transform="translate(830.9,384) scale(0.7,1)" text-anchor="middle" font-family="'Liberation Serif', serif" font-size="20.5" fill="#111" stroke="#111" stroke-width="0.35">A</text>
<text transform="translate(841.5,384) scale(0.8,1)" text-anchor="middle" font-family="'Liberation Serif', serif" font-size="20.5" fill="#111" stroke="#111" stroke-width="0.35">L</text>
<text transform="translate(852.2,384) scale(0.8,1)" text-anchor="middle" font-family="'Liberation Serif', serif" font-size="20.5" fill="#111" stroke="#111" stroke-width="0.35">E</text>
<line x1="763" y1="389" x2="859.9" y2="389" stroke-width="1.6"/>
<line x1="763" y1="389" x2="681.4" y2="436.6" stroke-width="1.4"/>
<path d="M681.4,436.6 L695.3,431.6 L692.6,427 Z" fill="#111" stroke="none"/>
</g></svg></body></html>
